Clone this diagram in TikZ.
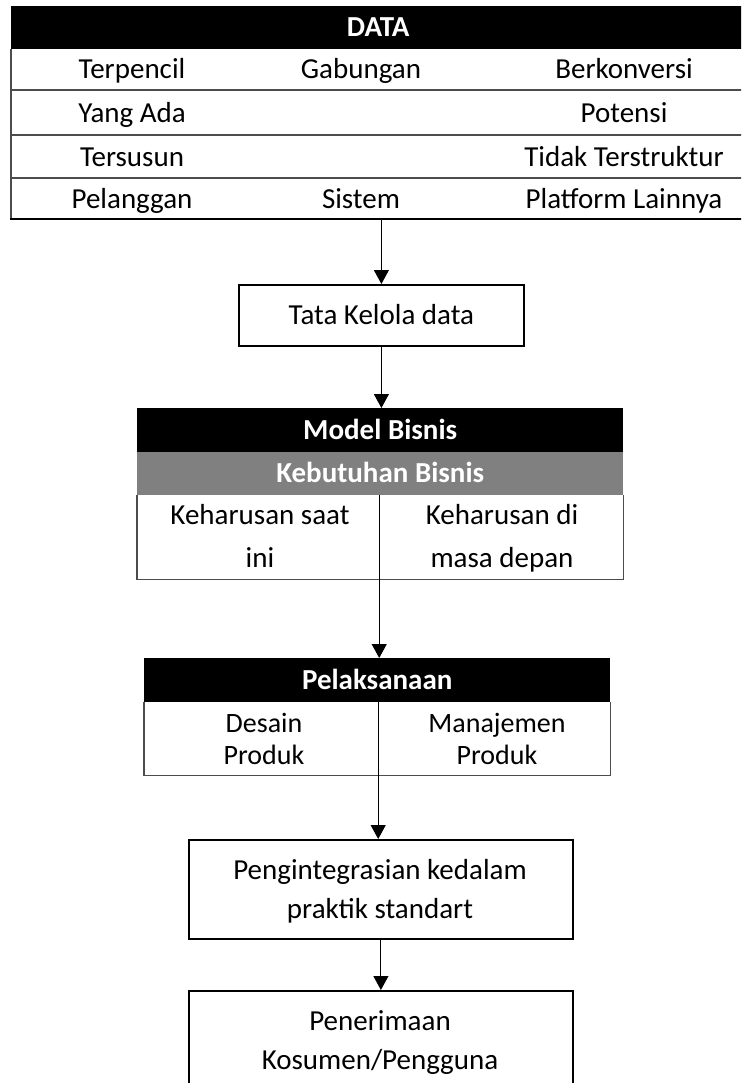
\documentclass[tikz,border=0pt]{standalone}
\usepackage{fontspec}
\setmainfont{Carlito}
\usetikzlibrary{arrows.meta}

% first line of a two-line label: a cap-height strut, ascenders ignored
\newcommand\firstln[1]{\rule{0pt}{18.5pt}\smash{#1}}
% following line: descenders ignored so the label centres on its capitals
\newcommand\nextln[1]{\smash{#1}}

\tikzset{
  bodytext/.style={font=\fontsize{29}{43}\selectfont, align=center, inner sep=0pt,
    text height=18.5pt, text depth=0pt},
  multitext/.style={font=\fontsize{29}{#1}\selectfont, align=center, inner sep=0pt},
  headbar/.style={fill=black, text=white, inner sep=0pt, anchor=north west,
    text height=18.5pt, text depth=0pt,
    font=\bfseries\fontsize{29}{36}\selectfont},
  subbar/.style={headbar, fill=black!50},
  stepbox/.style={draw, line width=1.8pt, inner sep=0pt, anchor=north west},
  frame/.style={draw=none, inner sep=0pt, anchor=north west},
  rowrule/.style={draw=black!70, line width=1.2pt},
  flow/.style={line width=1.1pt, -{Triangle[length=14pt,width=15pt]}}
}

\begin{document}
\begin{tikzpicture}[x=1pt, y=-1pt]
\useasboundingbox (0,0) rectangle (741,1083);
\clip (0,0) rectangle (741,1083);

% ---------- DATA table ----------
\node[frame, minimum width=734pt, minimum height=213pt] (tbl) at (11,6) {};
\node[headbar, minimum width=734pt, minimum height=43pt] (data) at (11,6) {DATA};
\draw[rowrule] (11,90) -- (745,90);
\draw[rowrule] (11,135) -- (745,135);
\draw[rowrule] (11,178) -- (745,178);
\draw[rowrule] (11,49) -- (11,219);
\draw[line width=1.3pt] (10.4,219) -- (745,219);

\node[bodytext] (r1a) at (132,69) {Terpencil};
\node[bodytext] (r1b) at (361,69) {Gabungan};
\node[bodytext] (r1c) at (624,69) {Berkonversi};
\node[bodytext] (r2a) at (132,113.5) {Yang Ada};
\node[bodytext] (r2c) at (624,113.5) {Potensi};
\node[bodytext] (r3a) at (132,157.5) {Tersusun};
\node[bodytext] (r3c) at (624,157.5) {Tidak Terstruktur};
\node[bodytext] (r4a) at (132,199) {Pelanggan};
\node[bodytext] (r4b) at (361,199) {Sistem};
\node[bodytext] (r4c) at (624,199) {Platform Lainnya};

% ---------- Tata Kelola ----------
\node[stepbox, minimum width=285pt, minimum height=61pt] (tata) at (238,284) {};
\node[bodytext] (tatatext) at (tata.center) {Tata Kelola data};

% ---------- Model Bisnis ----------
\node[headbar, minimum width=486pt, minimum height=44pt] (model) at (137,408) {Model Bisnis};
\node[subbar, minimum width=486pt, minimum height=43pt] (needs) at (137,452) {Kebutuhan Bisnis};
\node[frame, minimum width=486pt, minimum height=84pt] (needcells) at (137,495) {};
\draw[rowrule] (needs.south west) -- (needcells.south west) -- (needcells.south east) -- (needs.south east);
\node[multitext=43] (now) at (260,537) {\firstln{Keharusan saat}\\\nextln{ini}};
\node[multitext=43] (later) at (502,537) {\firstln{Keharusan di}\\\nextln{masa depan}};

% ---------- Pelaksanaan ----------
\node[headbar, minimum width=466pt, minimum height=44pt] (exec) at (144,658) {Pelaksanaan};
\node[frame, minimum width=466pt, minimum height=73pt] (execcells) at (144,702) {};
\draw[rowrule] (exec.south west) -- (execcells.south west) -- (execcells.south east) -- (exec.south east);
\node[multitext=32, font=\fontsize{28}{32}\selectfont] (design) at (264,739) {\firstln{Desain}\\\nextln{Produk}};
\node[multitext=32, font=\fontsize{28}{32}\selectfont] (manage) at (497,739) {\firstln{Manajemen}\\\nextln{Produk}};

% ---------- Integration and acceptance ----------
\node[stepbox, minimum width=384pt, minimum height=99pt] (integ) at (188,839) {};
\node[multitext=39] (integtext) at (380,890) {\firstln{Pengintegrasian kedalam}\\\nextln{praktik standart}};
\node[stepbox, minimum width=384pt, minimum height=110pt] (accept) at (188,990) {};
\node[multitext=39] (accepttext) at (380,1040.5) {\firstln{Penerimaan}\\\nextln{Kosumen/Pengguna}};

% ---------- Connectors ----------
\draw[flow] (tata.north |- tbl.south) -- (tata.north);
\draw[flow] (tata.south) -- (tata.south |- model.north);
\draw[flow] ([xshift=-1pt]needs.south) -- ([xshift=-1pt]needs.south |- exec.north);
\draw[flow] ([xshift=1pt]exec.south) -- ([xshift=1pt]exec.south |- integ.north);
\draw[flow] (integ.south) -- (accept.north);
\end{tikzpicture}
\end{document}
